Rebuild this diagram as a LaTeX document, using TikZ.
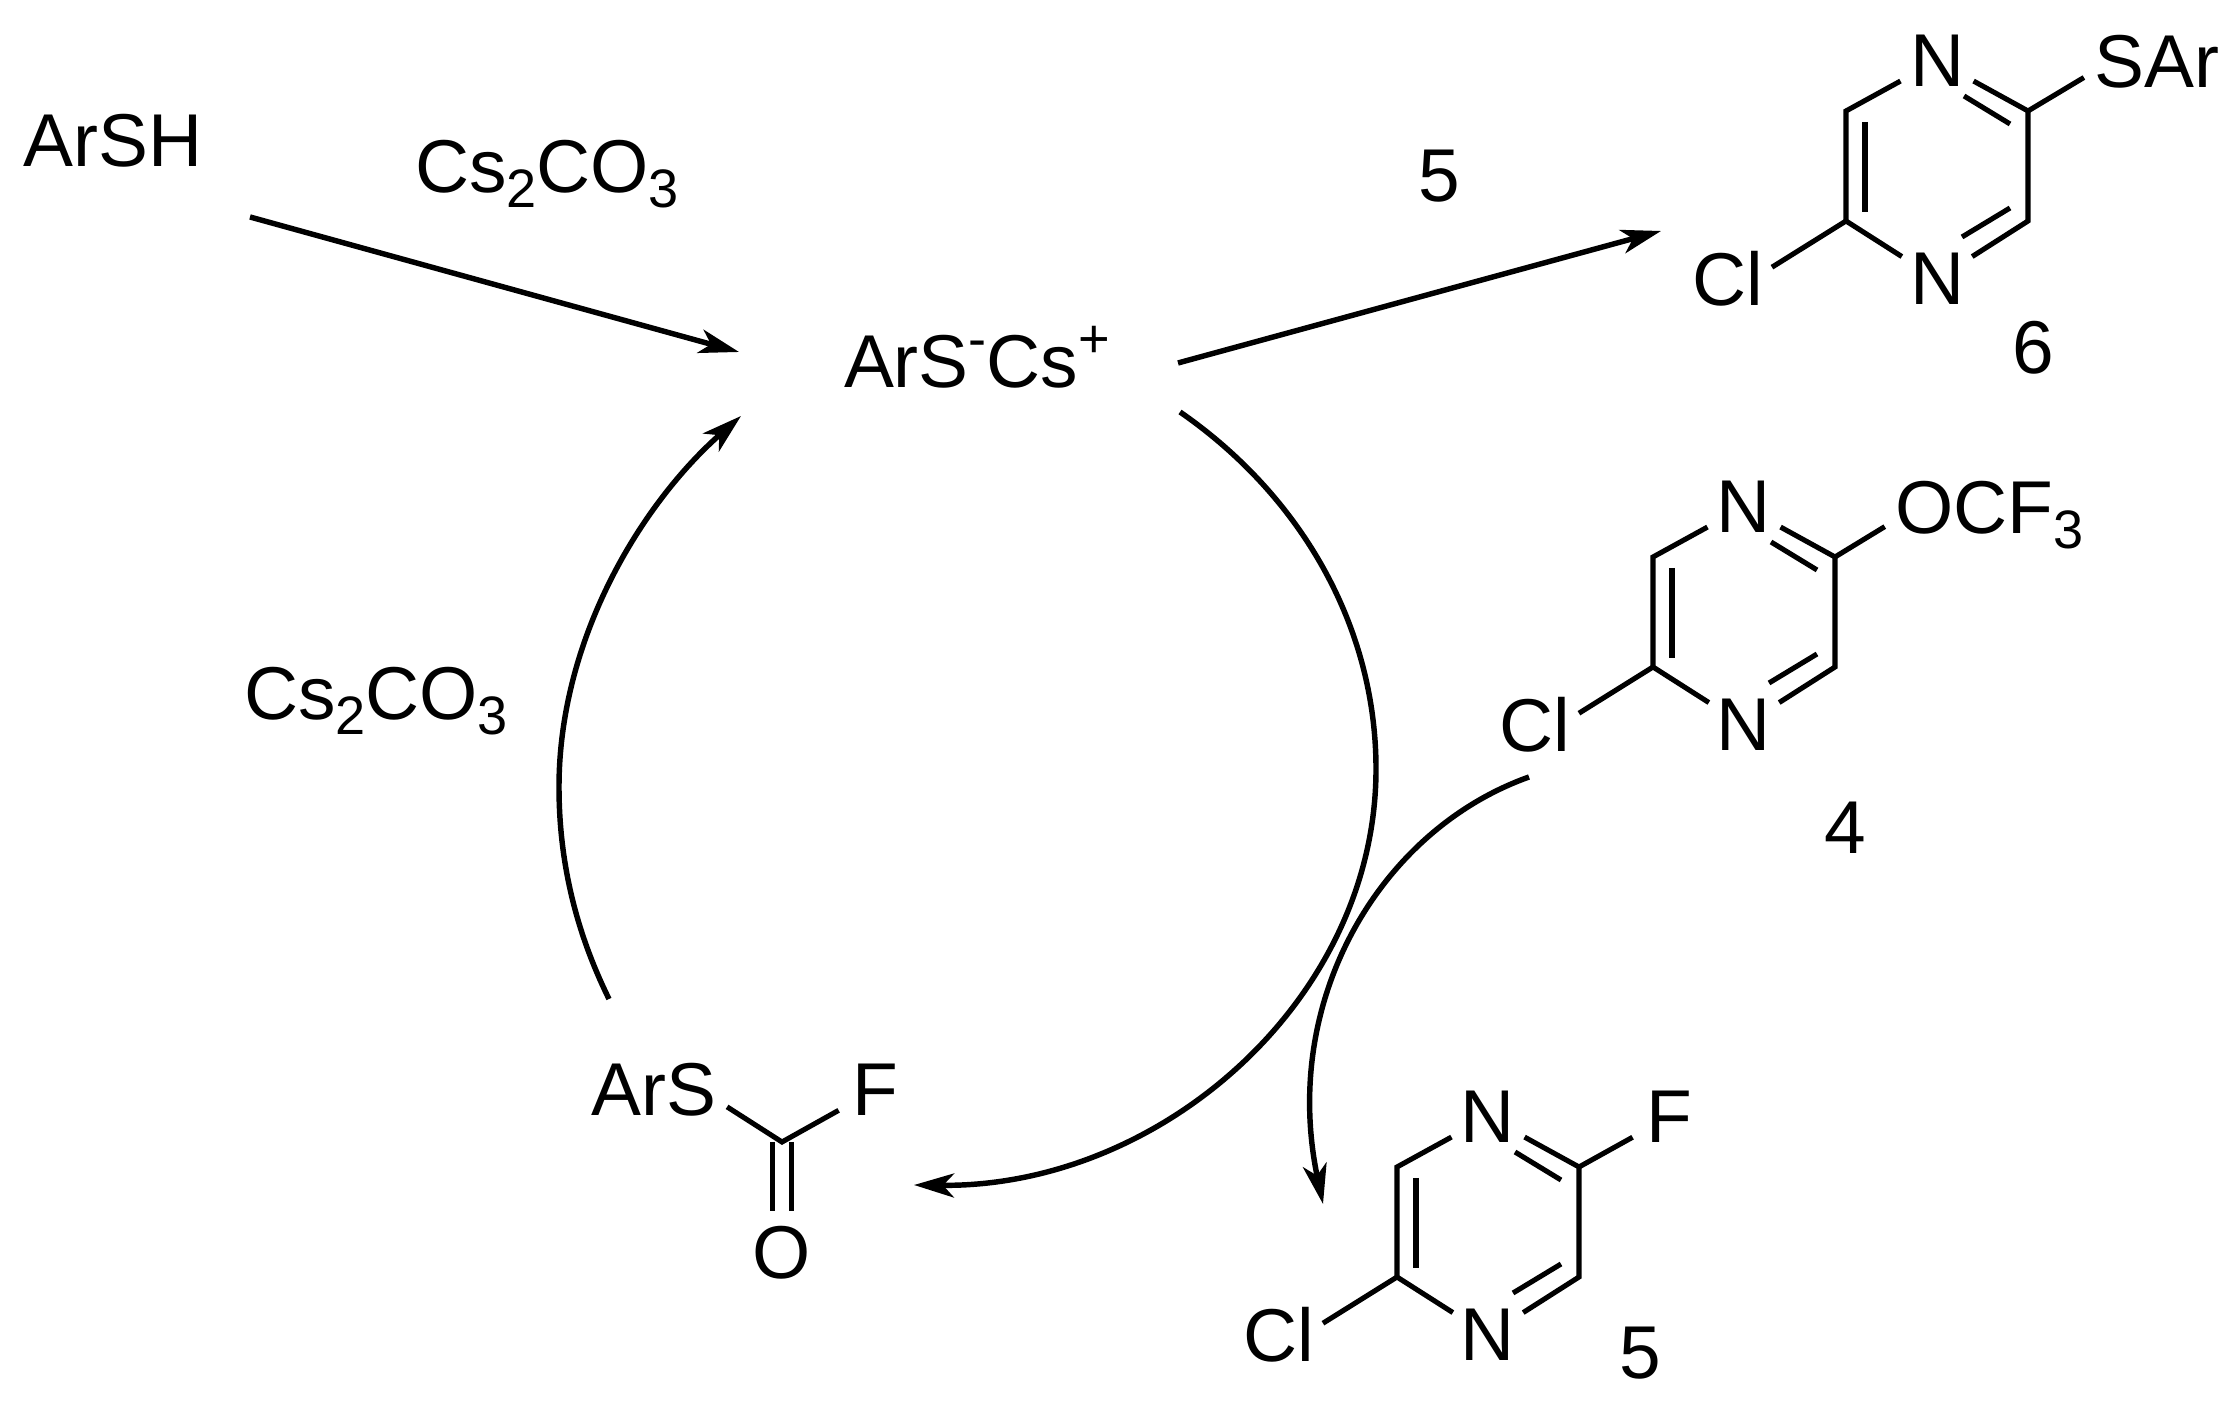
\documentclass[tikz,border=0pt]{standalone}
\usepackage{fontspec}
\setmainfont{Liberation Sans}
\usetikzlibrary{
  arrows.meta,
  calc
}
\newcommand{\lowdigit}[1]{\raisebox{-0.15cm}{\fontsize{15.4}{18}\selectfont #1}}
\newcommand{\highsign}[1]{\raisebox{0.30cm}{\fontsize{15.4}{18}\selectfont #1}}

\begin{document}
\begin{tikzpicture}[
  >={Stealth[length=4mm,width=2.4mm,inset=1.1mm]},
  every node/.style={font=\fontsize{21.3}{25}\selectfont, text=black},
  atom/.style={circle, inner sep=0pt, minimum size=0.82cm},
  group/.style={inner sep=0pt, inner xsep=0.1cm},
  bond/.style={line width=1.45pt, line join=miter},
  rxn/.style={->, line width=1.55pt},
]
\useasboundingbox (0,0) rectangle (22.32,14.12);

% ═══════════════════════════════════════════
% PYRAZINE RINGS (6, 4, 5)
% ═══════════════════════════════════════════
\foreach \ring/\cx/\cy in {six/19.37/12.46, four/17.44/8.00, five/14.88/1.90} {
  \begin{scope}[shift={(\cx,\cy)}]
    \coordinate (c1\ring) at (-0.91, 0.55);
    \coordinate (c2\ring) at (-0.91,-0.55);
    \coordinate (c3\ring) at ( 0.91, 0.55);
    \coordinate (c4\ring) at ( 0.91,-0.55);
    \node[atom] (n1\ring) at (0, 1.05) {N};
    \node[atom] (n2\ring) at (0,-1.13) {N};
    \node[atom] (cl\ring) at (-2.09,-1.13) {Cl};

    % ring and chlorine
    \draw[bond] (n1\ring) -- (c1\ring) -- (c2\ring) -- (n2\ring);
    \draw[bond] (n1\ring) -- (c3\ring) -- (c4\ring) -- (n2\ring);
    \draw[bond] (c2\ring) -- (cl\ring.15);

    % inner lines of the double bonds
    \draw[bond] (0.27,0.70) -- (0.73,0.42);
    \draw[bond] (0.73,-0.42) -- (0.25,-0.71);
    \draw[bond] (-0.72,0.44) -- (-0.72,-0.46);
  \end{scope}
}

% Substituents
\node[group] (sar) at (21.57,13.50) {SAr};
\draw[bond] (c3six) -- (sar.192);
\node[group, anchor=base] (ocf) at (19.895,8.78) {OCF\lowdigit{3}};
\draw[bond] (c3four) -- (ocf.186);
\node[atom] (fpyr) at (16.69,2.95) {F};
\draw[bond] (c3five) -- (fpyr);

% Compound numbers
\node (lab6) at (20.33,10.64) {6};
\node (lab4) at (18.45,5.84) {4};
\node (lab5) at (16.40,0.59) {5};

% ═══════════════════════════════════════════
% FLUOROTHIOFORMATE
% ═══════════════════════════════════════════
\coordinate (cfl) at (7.82,2.70);
\node[group] (arsf) at (6.54,3.22) {ArS};
\node[atom] (fcarb) at (8.75,3.22) {F};
\node[atom] (oxy) at (7.82,1.59) {O};
\draw[bond] (arsf.-13) -- (cfl) -- (fcarb);
\draw[bond] ([xshift=-0.095cm]cfl) -- ([xshift=-0.095cm]oxy.north);
\draw[bond] ([xshift=0.095cm]cfl) -- ([xshift=0.095cm]oxy.north);

% ═══════════════════════════════════════════
% SPECIES AND REAGENTS
% ═══════════════════════════════════════════
\node (arsh) at (1.13,12.71) {ArSH};
\node[anchor=base] (arscs) at (9.77,10.24) {ArS\highsign{-}Cs\highsign{+}};
\node[anchor=base] (cstop) at (5.47,12.19) {Cs\lowdigit{2}CO\lowdigit{3}};
\node[anchor=base] (csleft) at (3.76,6.92) {Cs\lowdigit{2}CO\lowdigit{3}};
\node (fivetop) at (14.39,12.36) {5};

% ═══════════════════════════════════════════
% ARROWS
% ═══════════════════════════════════════════
\coordinate (arshout) at (2.50,11.95);
\coordinate (arscsin) at (7.39,10.60);
\coordinate (arscsout) at (11.78,10.49);
\coordinate (sixin) at (16.61,11.81);
\coordinate (arcstart) at (11.80,10.00);
\coordinate (arcright) at (13.76,6.43);
\coordinate (arcend) at (9.14,2.27);
\coordinate (backstart) at (6.09,4.13);
\coordinate (backleft) at (5.59,6.25);
\coordinate (backend) at (7.41,9.96);
\coordinate (fourout) at (15.29,6.35);
\coordinate (fivein) at (13.23,2.08);

\draw[rxn] (arshout) -- (arscsin);
\draw[rxn] (arscsout) -- (sixin);

% Catalytic cycle
\draw[rxn] (arcstart) .. controls (13.00,9.17) and (13.76,7.87) .. (arcright)
  .. controls (13.76,4.12) and (11.60,2.24) .. (arcend);
\draw[rxn] (backstart) .. controls (5.75,4.82) and (5.59,5.52) .. (backleft)
  .. controls (5.59,7.72) and (6.40,9.07) .. (backend);

% Fluoride transfer to 4
\draw[rxn] (fourout) .. controls (13.80,5.82) and (12.80,4.12) .. (fivein);

\end{tikzpicture}
\end{document}
